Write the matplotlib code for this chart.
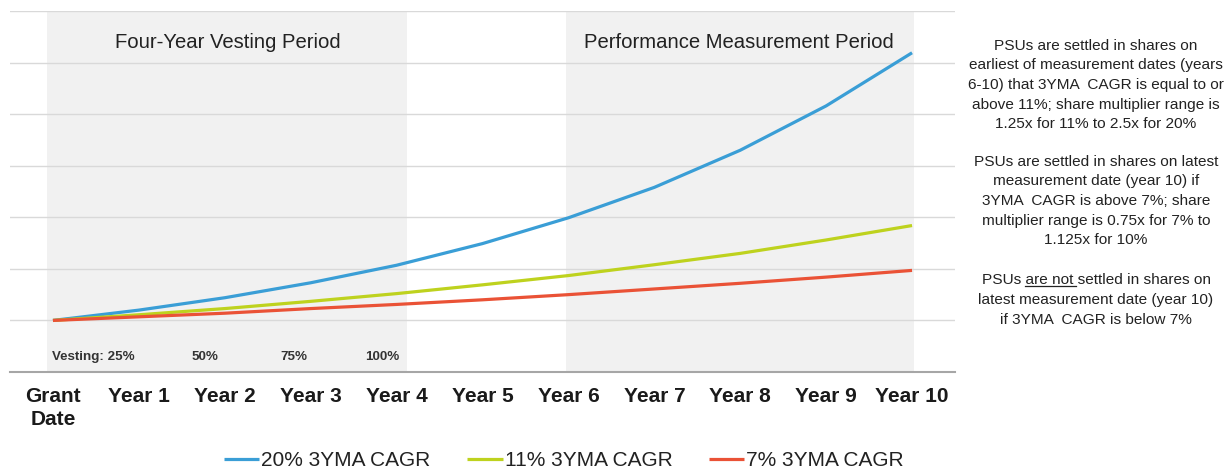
import matplotlib
matplotlib.use("Agg")
import matplotlib.pyplot as plt
import numpy as np

plt.rcParams['font.family'] = ['Liberation Sans', 'DejaVu Sans']

# categories and series values (index growth from grant date)
categories = ["Grant\nDate", "Year 1", "Year 2", "Year 3", "Year 4", "Year 5",
              "Year 6", "Year 7", "Year 8", "Year 9", "Year 10"]
cagr20 = [1.00, 1.20, 1.44, 1.73, 2.07, 2.49, 2.99, 3.58, 4.30, 5.16, 6.19]
cagr11 = [1.00, 1.11, 1.23, 1.37, 1.52, 1.69, 1.87, 2.08, 2.30, 2.56, 2.84]
cagr7 = [1.00, 1.07, 1.14, 1.23, 1.31, 1.40, 1.50, 1.61, 1.72, 1.84, 1.97]
seriesNames = ["20% 3YMA CAGR", "11% 3YMA CAGR", "7% 3YMA CAGR"]
vestingLabels = ["Vesting: 25%", "50%", "75%", "100%"]

notes = [
    "PSUs are settled in shares on\nearliest of measurement dates (years\n6-10) that 3YMA  CAGR is equal to or\nabove 11%; share multiplier range is\n1.25x for 11% to 2.5x for 20%",
    "PSUs are settled in shares on latest\nmeasurement date (year 10) if\n3YMA  CAGR is above 7%; share\nmultiplier range is 0.75x for 7% to\n1.125x for 10%",
]
note3 = ["PSUs are not settled in shares on",
         "latest measurement date (year 10)",
         "if 3YMA  CAGR is below 7%"]

W, H = 1229, 472
fig = plt.figure(figsize=(W/100, H/100), dpi=100)
ax = fig.add_axes([10/W, 1-372/H, 945/W, 361/H])

x = np.arange(len(categories))
ax.set_xlim(-0.5, 10.5)
ax.set_ylim(0, 7)

# shaded periods
ax.axvspan(-0.07, 4.12, color="#f1f1f1", zorder=0, lw=0)
ax.axvspan(5.97, 10.02, color="#f1f1f1", zorder=0, lw=0)

for yy in range(1, 8):
    ax.axhline(yy, color="#d9d9d9", lw=1, zorder=1)

colors = ["#3a9ed6", "#bed21e", "#ea5236"]
for vals, name, c in zip([cagr20, cagr11, cagr7], seriesNames, colors):
    ax.plot(x, vals, color=c, lw=2.3, label=name, zorder=3, solid_capstyle="butt")

for s in ["top", "right", "left"]:
    ax.spines[s].set_visible(False)
ax.spines["bottom"].set_color("#a6a6a6")
ax.spines["bottom"].set_linewidth(1.5)
ax.set_yticks([])
ax.set_xticks(x)
ax.set_xticklabels(categories, fontsize=15, fontweight="bold", color="#1a1a1a",
                   linespacing=1.25)
ax.tick_params(axis="x", length=0, pad=11)

ax.text(2.03, 6.39, "Four-Year Vesting Period", fontsize=14.6, color="#222222",
        ha="center", va="center")
ax.text(7.99, 6.39, "Performance Measurement Period", fontsize=14.6, color="#222222",
        ha="center", va="center")

vx = [-0.01, 1.77, 2.80, 3.83]
ax.text(vx[0], 0.29, vestingLabels[0], fontsize=9.6, fontweight="bold",
        color="#333333", ha="left", va="center")
for xv, lab in zip(vx[1:], vestingLabels[1:]):
    ax.text(xv, 0.29, lab, fontsize=9.6, fontweight="bold", color="#333333",
            ha="center", va="center")

# notes on the right
cx = 1096/W
fs = 11.1
fig.text(cx, 1-85/H, notes[0], fontsize=fs, color="#222222", ha="center",
         va="center", linespacing=1.5)
fig.text(cx, 1-201/H, notes[1], fontsize=fs, color="#222222", ha="center",
         va="center", linespacing=1.5)
lineY = [280, 300, 320]
txts = []
for ly, t in zip(lineY, note3):
    txts.append(fig.text(cx, 1-ly/H, t, fontsize=fs, color="#222222",
                         ha="center", va="center"))

# underline "are not"
fig.canvas.draw()
r = fig.canvas.get_renderer()
bb = txts[0].get_window_extent(r)
tmp = fig.text(0, 0, "PSUs ", fontsize=fs)
w0 = tmp.get_window_extent(r).width
tmp.set_text("PSUs are not")
w1 = tmp.get_window_extent(r).width
tmp.remove()
uy = (bb.y0 + 1) / H
fig.add_artist(plt.Line2D([(bb.x0 + w0)/W, (bb.x0 + w1 + 3)/W], [uy, uy],
                          color="#222222", lw=0.9))

fig.legend(loc="center", bbox_to_anchor=(564/W, 1-461/H), ncol=3, frameon=False,
           fontsize=15, handlelength=1.7, handletextpad=0.1, columnspacing=1.75,
           labelcolor="#222222")

fig.savefig("out.png", dpi=100)
